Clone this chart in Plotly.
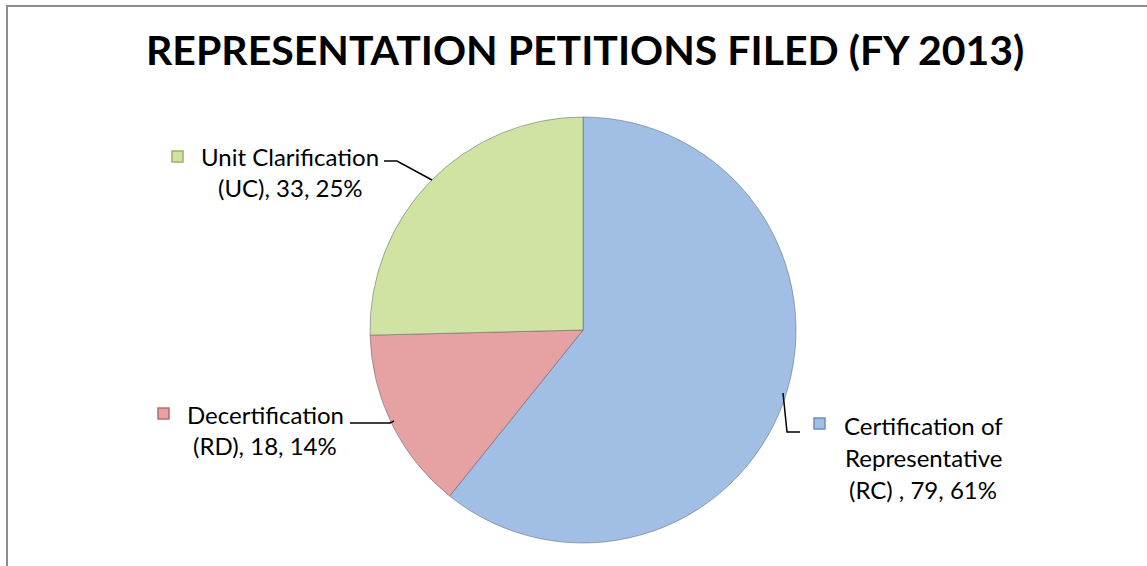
import plotly.graph_objects as go

# ---- data ----
categories = ["Certification of Representative (RC)", "Decertification (RD)", "Unit Clarification (UC)"]
label_lines = [
    ["Certification of", "Representative", "(RC) , {v}, {p}%"],
    ["Decertification", "(RD), {v}, {p}%"],
    ["Unit Clarification", "(UC), {v}, {p}%"],
]
values = [79, 18, 33]
colors = ["#A1BEE4", "#E6A2A2", "#D1E3A3"]
edge_colors = ["#6F8FBF", "#B56E6D", "#9AB36A"]
title = "REPRESENTATION PETITIONS FILED (FY 2013)"

W, H = 1147, 566
def px(x):
    return x / W
def py(y):
    return 1 - y / H

total = sum(values)
pcts = [round(v / total * 100) for v in values]

# pie geometry (pixels)
cx, cy, r = 583, 330, 213

fig = go.Figure()
fig.add_trace(go.Pie(
    labels=categories,
    values=values,
    sort=False,
    direction="clockwise",
    rotation=0,
    marker=dict(colors=colors, line=dict(color="rgba(70,80,95,0.45)", width=1)),
    textinfo="none",
    hoverinfo="label+value+percent",
    showlegend=False,
    domain=dict(x=[px(cx - r), px(cx + r)], y=[py(cy + r), py(cy - r)]),
))

font_lbl = dict(family="Lato, Calibri, sans-serif", size=24, color="#000000")
annotations = []
shapes = []

# label layout: (center x, first line y, line gap, marker x, marker y)
layout_info = [
    dict(cx=923, y0=425, gap=32, mx=814, my=418, line=[(783, 393), (787, 432), (800, 432)]),
    dict(cx=265, y0=414, gap=31, mx=158, my=408, line=[(350, 423), (390, 423), (394, 421)]),
    dict(cx=290, y0=157, gap=31, mx=172, my=151, line=[(384, 161), (397, 161), (432, 180)]),
]

for i, info in enumerate(layout_info):
    lines = [s.format(v=values[i], p=pcts[i]) for s in label_lines[i]]
    for k, s in enumerate(lines):
        annotations.append(dict(
            x=px(info["cx"]), y=py(info["y0"] + k * info["gap"]),
            xref="paper", yref="paper", text=s, showarrow=False,
            xanchor="center", yanchor="middle", font=font_lbl,
        ))
    # legend key marker
    shapes.append(dict(
        type="rect", xref="paper", yref="paper",
        x0=px(info["mx"]), x1=px(info["mx"] + 11),
        y0=py(info["my"] + 11), y1=py(info["my"]),
        fillcolor=colors[i], line=dict(color=edge_colors[i], width=1.5),
    ))
    # leader line
    pts = info["line"]
    path = "M " + " L ".join(f"{px(x)},{py(y)}" for x, y in pts)
    shapes.append(dict(type="path", xref="paper", yref="paper", path=path,
                       line=dict(color="#000000", width=1.5)))

# title
annotations.append(dict(
    x=px(585), y=py(50), xref="paper", yref="paper", text=f"<b>{title}</b>",
    showarrow=False, xanchor="center", yanchor="middle",
    font=dict(family="Lato, Calibri, sans-serif", size=41, color="#000000"),
))

# chart area border (extends beyond the window at right and bottom)
shapes.append(dict(type="rect", xref="paper", yref="paper",
                   x0=px(7), x1=px(1160), y0=py(580), y1=py(6),
                   line=dict(color="#8C8C8C", width=2), fillcolor="rgba(0,0,0,0)"))

fig.update_layout(
    width=W, height=H,
    margin=dict(l=0, r=0, t=0, b=0),
    paper_bgcolor="#FFFFFF", plot_bgcolor="#FFFFFF",
    annotations=annotations, shapes=shapes,
)

fig.write_html("out.html",
               config={"displayModeBar": False},
               post_script="document.body.style.margin='0';document.body.style.overflow='hidden';")
